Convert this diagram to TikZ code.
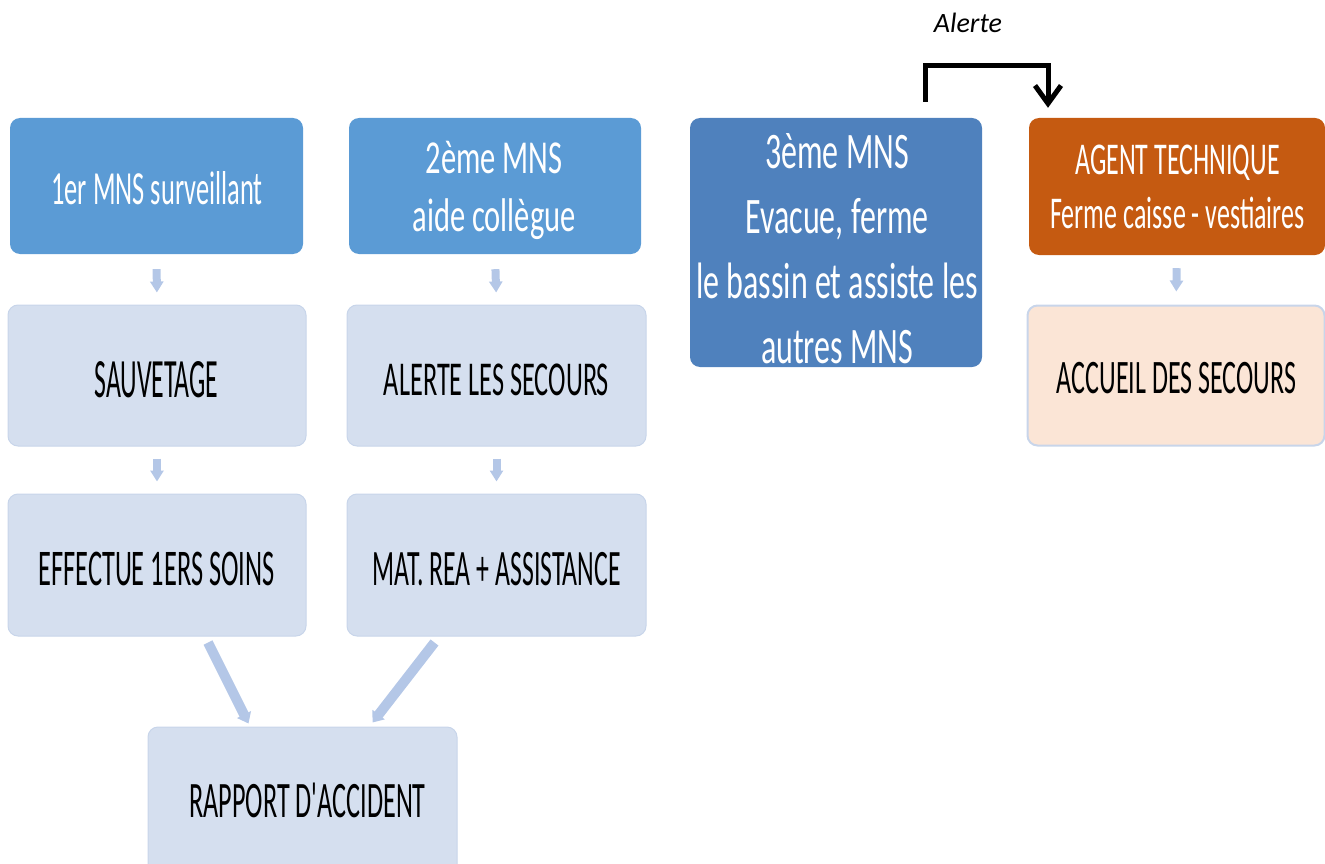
\documentclass[tikz,border=0pt]{standalone}
\usepackage{fontspec}
\setmainfont{Carlito}[Ligatures=TeXOff]
\usetikzlibrary{arrows.meta,calc}
\definecolor{blueA}{HTML}{5B9BD5}
\definecolor{blueB}{HTML}{4F81BD}
\definecolor{orangeA}{HTML}{C55A11}
\definecolor{lightbox}{RGB}{213,223,239}
\definecolor{lightedge}{RGB}{200,213,234}
\definecolor{peach}{HTML}{FBE5D6}
\definecolor{arrowblue}{HTML}{B4C7E7}
\newcommand\bt[4]{\scalebox{1}[#2]{\fontsize{#1}{#3}\selectfont\begin{tabular}[b]{@{}c@{}}#4\end{tabular}}}
\tikzset{
  box/.style={rectangle, rounded corners=10pt, inner sep=0pt},
  lbox/.style={box, fill=lightbox, draw=lightedge, line width=1pt},
  txt/.style={anchor=base, inner sep=0pt, outer sep=0pt},
  wtxt/.style={txt, text=white},
  smallarrow/.style={draw=arrowblue, line width=8pt, -{Triangle[length=11pt,width=13pt]}},
  diagarrow/.style={draw=arrowblue, line width=10pt, -{Triangle[length=10pt,width=15pt]}},
  alertline/.style={draw=black, line width=5pt, -{Straight Barb[length=18pt,width=26pt,line width=5pt]}}
}
\begin{document}
\begin{tikzpicture}[x=1pt,y=-1pt]
\useasboundingbox (0,0) rectangle (1325,864);
\clip (0,0) rectangle (1325,864);
% boxes
\node[box, fill=blueA, minimum width=293pt, minimum height=136pt] (b1) at (156.5,186) {};
\node[box, fill=blueA, minimum width=292pt, minimum height=136pt] (b2) at (495,186) {};
\node[box, fill=blueB, minimum width=292pt, minimum height=249pt] (b3) at (836,242.5) {};
\node[box, fill=orangeA, minimum width=296pt, minimum height=137pt] (b4) at (1177,186.5) {};
\node[lbox, minimum width=298pt, minimum height=141pt] (b5) at (157,375.5) {};
\node[lbox, minimum width=299pt, minimum height=141pt] (b6) at (496.5,375.5) {};
\node[lbox, minimum width=298pt, minimum height=142pt] (b7) at (157,565) {};
\node[lbox, minimum width=299pt, minimum height=142pt] (b8) at (496.5,565) {};
\node[lbox, minimum width=309pt, minimum height=150pt] (b9) at (302.5,802) {};
\node[box, fill=peach, draw=lightedge, line width=2pt, minimum width=297pt, minimum height=140pt] (b10) at (1176,375.5) {};
% texts
\node[wtxt] (t1) at (157,204) {\bt{26.4}{1.8}{30}{1er MNS surveillant}};
\node[wtxt] (t2) at (494,231) {\bt{30.5}{1.55}{37}{2ème MNS\\aide collègue}};
\node[wtxt] (t3) at (837,363) {\bt{32}{1.6}{40.6}{3ème MNS\\Evacue, ferme\\le bassin et assiste les\\autres MNS}};
\node[wtxt] (t4) at (1177.5,228) {\bt{26}{1.75}{30.3}{AGENT TECHNIQUE\\Ferme caisse - vestiaires}};
\node[txt] (t5) at (156.5,397) {\bt{25.8}{2.15}{30}{SAUVETAGE}};
\node[txt] (t6) at (496.5,395) {\bt{26.3}{1.85}{30}{ALERTE LES SECOURS}};
\node[txt] (t7) at (156.5,585) {\bt{26.4}{1.95}{30}{EFFECTUE 1ERS SOINS}};
\node[txt] (t8) at (496.5,585) {\bt{25.8}{1.98}{30}{MAT. REA + ASSISTANCE}};
\node[txt] (t9) at (307.5,817) {\bt{26.2}{1.95}{30}{RAPPORT D'ACCIDENT}};
\node[txt] (t10) at (1176.5,393) {\bt{26}{1.85}{30}{ACCUEIL DES SECOURS}};
\node[txt] (al) at (968,33) {\fontsize{28}{32}\selectfont\itshape Alerte};
% small arrows
\draw[smallarrow, shorten <=15pt, shorten >=12pt] (b1.south) -- (b5.north);
\draw[smallarrow, shorten <=15pt, shorten >=12pt] (b2.south) -- (b6.north);
\draw[smallarrow, shorten <=12pt, shorten >=12pt] (b5.south) -- (b7.north);
\draw[smallarrow, shorten <=12pt, shorten >=12pt] (b6.south) -- (b8.north);
\draw[smallarrow, shorten <=13pt, shorten >=13pt] (b4.south) -- (b10.north);
% diagonal arrows
\draw[diagarrow] ($(b7.south)+(51,6)$) -- ($(b9.north west)+(101,-3)$);
\draw[diagarrow] ($(b8.south)+(-62,6)$) -- ($(b9.north west)+(225,-4)$);
% alerte connector
\coordinate (as) at ($(b3.north)+(89,-16)$);
\coordinate (ae) at ($(b4.north)+(-129,-10)$);
\draw[alertline, line join=miter] (as) -- (as |- 0,66) -- (ae |- 0,66) -- (ae);
\end{tikzpicture}
\end{document}
